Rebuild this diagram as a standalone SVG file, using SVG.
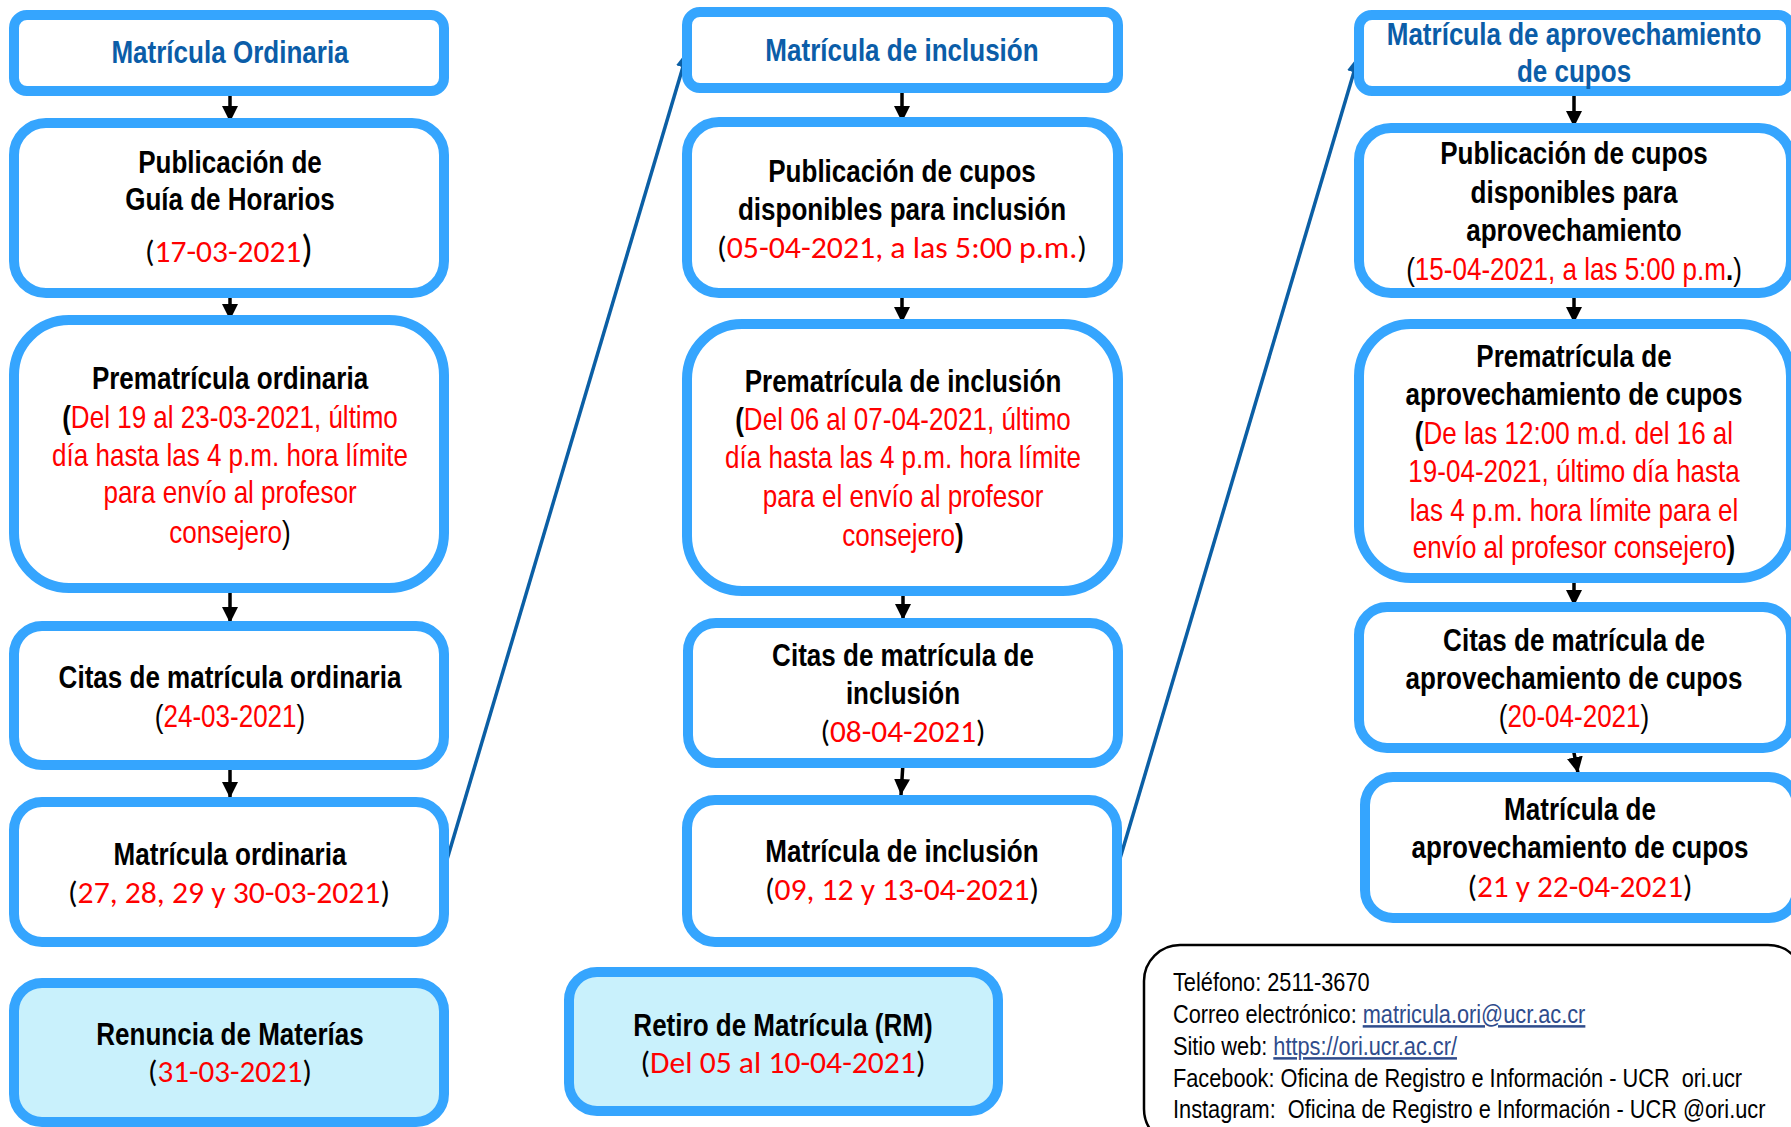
<svg xmlns="http://www.w3.org/2000/svg" width="1791" height="1127" viewBox="0 0 1791 1127">
<defs>
<style>
.bx{fill:#fff;stroke:#35A5FE;stroke-width:10}
.bxc{fill:#C9F1FC;stroke:#35A5FE;stroke-width:10}
.t{font-family:"Liberation Sans Narrow","Arial Narrow","Liberation Sans",sans-serif;font-weight:bold;font-size:31px;text-anchor:middle;fill:#000}
.ti{font-family:"Liberation Sans Narrow","Arial Narrow","Liberation Sans",sans-serif;font-weight:bold;font-size:31px;text-anchor:middle;fill:#0B5DA8}
.n{font-family:"Liberation Sans Narrow","Arial Narrow","Liberation Sans",sans-serif;font-size:31px;text-anchor:middle;fill:#000}
.c{font-family:Carlito,Lato,"Open Sans",sans-serif;font-size:31px;text-anchor:middle;fill:#000}
.red{fill:#FF0000}
.info{font-family:"Liberation Sans Narrow","Arial Narrow","Liberation Sans",sans-serif;font-size:25px;fill:#000;white-space:pre}
.lnk{fill:#2F4C8C;text-decoration:underline}
.ar{stroke:#000;stroke-width:3.5;fill:none}
.ab{stroke:#0B5FA5;stroke-width:3.5;fill:none}
</style>
<marker id="ah" markerWidth="18" markerHeight="18" refX="16" refY="8" orient="auto" markerUnits="userSpaceOnUse"><path d="M0,0 L16,8 L0,16 z" fill="#000"/></marker>
<marker id="ahb" markerWidth="20" markerHeight="16" refX="18" refY="7" orient="auto" markerUnits="userSpaceOnUse"><path d="M0,0 L18,7 L0,14 z" fill="#0B5FA5"/></marker>
</defs>

<g id="connectors">
<line class="ar" x1="230" y1="91" x2="230" y2="122" marker-end="url(#ah)"/>
<line class="ar" x1="230" y1="293" x2="230" y2="320" marker-end="url(#ah)"/>
<line class="ar" x1="230" y1="593" x2="230" y2="623" marker-end="url(#ah)"/>
<line class="ar" x1="230" y1="765" x2="230" y2="798" marker-end="url(#ah)"/>
<line class="ar" x1="902" y1="88" x2="902" y2="122" marker-end="url(#ah)"/>
<line class="ar" x1="902" y1="293" x2="902" y2="323" marker-end="url(#ah)"/>
<line class="ar" x1="903" y1="591" x2="903" y2="620" marker-end="url(#ah)"/>
<line class="ar" x1="903" y1="763" x2="901" y2="795" marker-end="url(#ah)"/>
<line class="ar" x1="1574" y1="91" x2="1574" y2="127" marker-end="url(#ah)"/>
<line class="ar" x1="1574" y1="293" x2="1574" y2="323" marker-end="url(#ah)"/>
<line class="ar" x1="1574" y1="578" x2="1574" y2="606" marker-end="url(#ah)"/>
<line class="ar" x1="1573" y1="748" x2="1578" y2="773" marker-end="url(#ah)"/>
<line class="ab" x1="443" y1="873" x2="688" y2="50" marker-end="url(#ahb)"/>
<line class="ab" x1="1116" y1="872" x2="1359" y2="55" marker-end="url(#ahb)"/>
</g>

<g id="n-mo-title">
<rect class="bx" x="14" y="15" width="430" height="76" rx="13"/>
<g transform="translate(230 0) scale(0.84 1)"><text class="ti" x="0" y="63">Matrícula Ordinaria</text></g>
</g>
<g id="n-mo-pub">
<rect class="bx" x="14" y="123" width="430" height="170" rx="32"/>
<g transform="translate(230 0) scale(0.84 1)">
<text class="t" x="0" y="173">Publicación de</text>
<text class="t" x="0" y="210">Guía de Horarios</text>
</g>
<text class="c" x="229" y="262" textLength="168" lengthAdjust="spacingAndGlyphs"><tspan>(</tspan><tspan class="red">17-03-2021</tspan><tspan font-size="38">)</tspan></text>
</g>
<g id="n-mo-pre">
<rect class="bx" x="14" y="320" width="430" height="268" rx="55"/>
<g transform="translate(230 0) scale(0.84 1)">
<text class="t" x="0" y="389">Prematrícula ordinaria</text>
<text class="n" x="0" y="428"><tspan font-weight="bold">(</tspan><tspan class="red">Del 19 al 23-03-2021, último</tspan></text>
<text class="n red" x="0" y="466">día hasta las 4 p.m. hora límite</text>
<text class="n red" x="0" y="503">para envío al profesor</text>
<text class="n" x="0" y="543"><tspan class="red">consejero</tspan>)</text>
</g>
</g>
<g id="n-mo-citas">
<rect class="bx" x="14" y="626" width="430" height="139" rx="28"/>
<g transform="translate(230 0) scale(0.84 1)">
<text class="t" x="0" y="688">Citas de matrícula ordinaria</text>
<text class="n" x="0" y="727">(<tspan class="red">24-03-2021</tspan>)</text>
</g>
</g>
<g id="n-mo-mat">
<rect class="bx" x="14" y="802" width="430" height="140" rx="28"/>
<g transform="translate(230 0) scale(0.84 1)"><text class="t" x="0" y="865">Matrícula ordinaria</text></g>
<text class="c" x="229" y="903" textLength="322" lengthAdjust="spacingAndGlyphs">(<tspan class="red">27, 28, 29 y 30-03-2021</tspan>)</text>
</g>
<g id="n-renuncia">
<rect class="bxc" x="14" y="983" width="430" height="139" rx="28"/>
<g transform="translate(230 0) scale(0.84 1)"><text class="t" x="0" y="1045">Renuncia de Materías</text></g>
<text class="c" x="230" y="1082" textLength="164" lengthAdjust="spacingAndGlyphs">(<tspan class="red">31-03-2021</tspan>)</text>
</g>

<g id="n-mi-title">
<rect class="bx" x="687" y="12" width="431" height="76" rx="13"/>
<g transform="translate(902 0) scale(0.84 1)"><text class="ti" x="0" y="61">Matrícula de inclusión</text></g>
</g>
<g id="n-mi-pub">
<rect class="bx" x="687" y="122" width="431" height="171" rx="32"/>
<g transform="translate(902 0) scale(0.84 1)">
<text class="t" x="0" y="182">Publicación de cupos</text>
<text class="t" x="0" y="220">disponibles para inclusión</text>
</g>
<text class="c" x="902" y="258" textLength="370" lengthAdjust="spacingAndGlyphs">(<tspan class="red">05-04-2021, a las 5:00 p.m.</tspan>)</text>
</g>
<g id="n-mi-pre">
<rect class="bx" x="687" y="324" width="431" height="267" rx="55"/>
<g transform="translate(903 0) scale(0.84 1)">
<text class="t" x="0" y="392">Prematrícula de inclusión</text>
<text class="n" x="0" y="430"><tspan font-weight="bold">(</tspan><tspan class="red">Del 06 al 07-04-2021, último</tspan></text>
<text class="n red" x="0" y="468">día hasta las 4 p.m. hora límite</text>
<text class="n red" x="0" y="507">para el envío al profesor</text>
<text class="n" x="0" y="546"><tspan class="red">consejero</tspan><tspan font-weight="bold">)</tspan></text>
</g>
</g>
<g id="n-mi-citas">
<rect class="bx" x="688" y="623" width="430" height="140" rx="28"/>
<g transform="translate(903 0) scale(0.84 1)">
<text class="t" x="0" y="666">Citas de matrícula de</text>
<text class="t" x="0" y="704">inclusión</text>
</g>
<text class="c" x="903" y="742" textLength="165" lengthAdjust="spacingAndGlyphs">(<tspan class="red">08-04-2021</tspan>)</text>
</g>
<g id="n-mi-mat">
<rect class="bx" x="687" y="800" width="430" height="142" rx="28"/>
<g transform="translate(902 0) scale(0.84 1)"><text class="t" x="0" y="862">Matrícula de inclusión</text></g>
<text class="c" x="902" y="900" textLength="274" lengthAdjust="spacingAndGlyphs">(<tspan class="red">09, 12 y 13-04-2021</tspan>)</text>
</g>
<g id="n-retiro">
<rect class="bxc" x="569" y="972" width="429" height="139" rx="28"/>
<g transform="translate(783 0) scale(0.84 1)"><text class="t" x="0" y="1036">Retiro de Matrícula (RM)</text></g>
<text class="c" x="783" y="1073" textLength="285" lengthAdjust="spacingAndGlyphs">(<tspan class="red">Del 05 al 10-04-2021</tspan>)</text>
</g>

<g id="n-ma-title">
<rect class="bx" x="1359" y="15" width="432" height="76" rx="13"/>
<g transform="translate(1574 0) scale(0.84 1)">
<text class="ti" x="0" y="45">Matrícula de aprovechamiento</text>
<text class="ti" x="0" y="82">de cupos</text>
</g>
</g>
<g id="n-ma-pub">
<rect class="bx" x="1359" y="128" width="432" height="165" rx="32"/>
<g transform="translate(1574 0) scale(0.84 1)">
<text class="t" x="0" y="164">Publicación de cupos</text>
<text class="t" x="0" y="203">disponibles para</text>
<text class="t" x="0" y="241">aprovechamiento</text>
<text class="n" x="0" y="280">(<tspan class="red">15-04-2021, a las 5:00 p.m</tspan><tspan font-weight="bold">.</tspan>)</text>
</g>
</g>
<g id="n-ma-pre">
<rect class="bx" x="1359" y="324" width="432" height="254" rx="52"/>
<g transform="translate(1574 0) scale(0.84 1)">
<text class="t" x="0" y="367">Prematrícula de</text>
<text class="t" x="0" y="405">aprovechamiento de cupos</text>
<text class="n" x="0" y="444"><tspan font-weight="bold">(</tspan><tspan class="red">De las 12:00 m.d. del 16 al</tspan></text>
<text class="n red" x="0" y="482">19-04-2021, último día hasta</text>
<text class="n red" x="0" y="521">las 4 p.m. hora límite para el</text>
<text class="n" x="0" y="558"><tspan class="red">envío al profesor consejero</tspan><tspan font-weight="bold">)</tspan></text>
</g>
</g>
<g id="n-ma-citas">
<rect class="bx" x="1359" y="607" width="432" height="141" rx="28"/>
<g transform="translate(1574 0) scale(0.84 1)">
<text class="t" x="0" y="651">Citas de matrícula de</text>
<text class="t" x="0" y="689">aprovechamiento de cupos</text>
<text class="n" x="0" y="727">(<tspan class="red">20-04-2021</tspan>)</text>
</g>
</g>
<g id="n-ma-mat">
<rect class="bx" x="1365" y="777" width="432" height="141" rx="28"/>
<g transform="translate(1580 0) scale(0.84 1)">
<text class="t" x="0" y="820">Matrícula de</text>
<text class="t" x="0" y="858">aprovechamiento de cupos</text>
</g>
<text class="c" x="1580" y="897" textLength="225" lengthAdjust="spacingAndGlyphs">(<tspan class="red">21 y 22-04-2021</tspan>)</text>
</g>

<g id="n-info">
<rect x="1144" y="945" width="660" height="200" rx="36" fill="#fff" stroke="#000" stroke-width="2.5"/>
<g transform="translate(1173 0) scale(0.87 1)">
<text class="info" x="0" y="991">Teléfono: 2511-3670</text>
<text class="info" x="0" y="1023">Correo electrónico: <tspan class="lnk">matricula.ori@ucr.ac.cr</tspan></text>
<text class="info" x="0" y="1055">Sitio web: <tspan class="lnk">https://ori.ucr.ac.cr/</tspan></text>
<text class="info" x="0" y="1087">Facebook: Oficina de Registro e Información - UCR  ori.ucr</text>
<text class="info" x="0" y="1118">Instagram:  Oficina de Registro e Información - UCR @ori.ucr</text>
</g>
</g>
</svg>
